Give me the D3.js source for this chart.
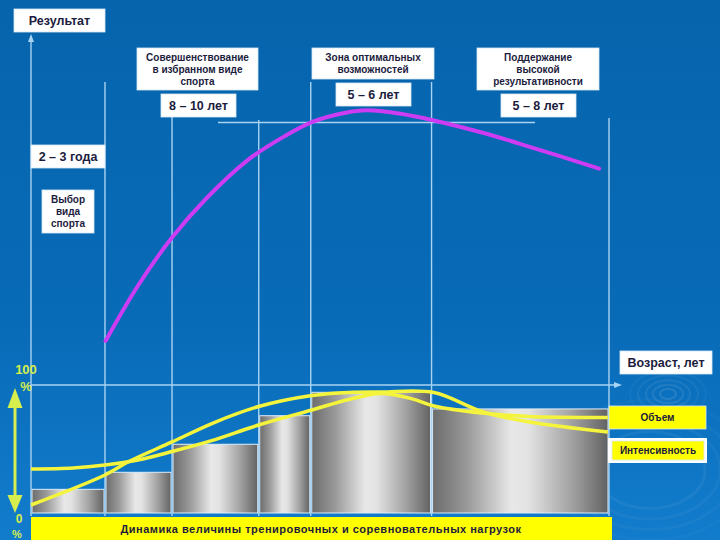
<!DOCTYPE html>
<html><head><meta charset="utf-8">
<script src="https://cdn.jsdelivr.net/npm/d3@7"></script>
<style>html,body{margin:0;padding:0;background:#0a68b0;}svg{display:block;}</style>
</head><body>
<script>
// ---------- DATA ----------
const stageBounds = [0, 12.8, 24.4, 39.4, 48.4, 69.3, 100];      // age axis, stage boundaries
const loadBars    = [18.5, 31.8, 53.7, 76, 94.3, 81.3];           // % load per stage
const resultX     = [12.9, 18.5, 24.4, 30.4, 37.5, 43.9, 48.6, 54.2, 58.1, 63.7, 69.7, 78, 86, 98.3];
const resultY     = [16, 36.1, 53.6, 68, 81.8, 90.5, 95.6, 98.9, 99.9, 98.7, 96.2, 91.8, 86.8, 78.7];
const volumeX     = [0, 7.3, 12.8, 18.5, 24.4, 31.1, 39.4, 48.6, 55, 60.6, 66.1, 69.7, 78, 86, 99.8];
const volumeY     = [34.4, 35.2, 37.5, 41.4, 48, 56.3, 68.75, 80.5, 88.7, 93.4, 89, 83.6, 78.1, 75.4, 74.6];
const intensX     = [0, 12.8, 17.1, 24.4, 31.5, 39.4, 48.6, 55, 60.6, 69.7, 78, 86, 99.8];
const intensY     = [6.25, 29.7, 40.6, 55.5, 70.3, 83.2, 91.8, 94.2, 94.5, 94.1, 79.3, 71.3, 63.3];
const stageTitles = [["Совершенствование","в избранном виде","спорта"],["Зона оптимальных","возможностей"],["Поддержание","высокой","результативности"]];
const stageYears  = ["8 – 10 лет","5 – 6 лет","5 – 8 лет"];
const firstStage  = ["2 – 3 года", ["Выбор","вида","спорта"]];
const legendNames = ["Объем","Интенсивность"];
const axisTitles  = ["Результат","Возраст, лет","Динамика величины тренировочных и соревновательных нагрузок"];
const pctLabels   = [["100","%"],["0","%"]];

// ---------- SETUP ----------
const W = 720, H = 540;
const svg = d3.select("body").append("svg").attr("width", W).attr("height", H);
const defs = svg.append("defs");
const FONT = "'Liberation Sans', Arial, sans-serif";
const TXT = "#1c1c3e";

const bg = defs.append("linearGradient").attr("id","bg").attr("x1",0).attr("y1",0).attr("x2",0).attr("y2",1);
bg.append("stop").attr("offset","0").attr("stop-color","#0664ac");
bg.append("stop").attr("offset","0.6").attr("stop-color","#086bb8");
bg.append("stop").attr("offset","1").attr("stop-color","#127ccc");
svg.append("rect").attr("width",W).attr("height",H).attr("fill","url(#bg)");

const barG = defs.append("linearGradient").attr("id","barG").attr("x1",0).attr("y1",0).attr("x2",1).attr("y2",0);
[["0","#6c6c6c"],["0.2","#9a9a9a"],["0.45","#e8e8e8"],["0.55","#e2e2e2"],["0.8","#a0a0a0"],["1","#626262"]]
  .forEach(s=>barG.append("stop").attr("offset",s[0]).attr("stop-color",s[1]));

// ripples decoration
const rip = svg.append("g").attr("fill","none").attr("stroke","#ffffff");
[8,15,22,30,38].forEach((r,i)=>rip.append("ellipse").attr("cx",668).attr("cy",394).attr("rx",r).attr("ry",r*0.62).attr("stroke-opacity",0.11-i*0.018).attr("stroke-width",2));
[55,70,85,100].forEach((r,i)=>rip.append("ellipse").attr("cx",650).attr("cy",470).attr("rx",r).attr("ry",r*0.7).attr("stroke-opacity",0.055-i*0.01).attr("stroke-width",3));

// ---------- SCALES ----------
const x = d3.scaleLinear().domain([0,100]).range([31,609]);
const yRes = d3.scaleLinear().domain([0,100]).range([385,110]);
const yLoad = d3.scaleLinear().domain([0,100]).range([513,385]);

// ---------- BARS ----------
svg.append("g").selectAll("rect").data(loadBars).join("rect")
  .attr("x",(d,i)=>x(stageBounds[i])+1)
  .attr("width",(d,i)=>x(stageBounds[i+1])-x(stageBounds[i])-2)
  .attr("y",d=>yLoad(d))
  .attr("height",d=>yLoad(0)-yLoad(d))
  .attr("fill","url(#barG)")
  .attr("stroke","#dfeefa").attr("stroke-width",1);

// ---------- GRID / AXES ----------
const LINE = "#a9d3f2";
const gl = svg.append("g").attr("stroke",LINE).attr("stroke-width",1.4);
const lineTops = [36, 82, 115, 120, 82, 82, 118];
stageBounds.forEach((b,i)=>gl.append("line").attr("x1",x(b)).attr("x2",x(b)).attr("y1",lineTops[i]).attr("y2",516));
gl.append("line").attr("x1",x(0)).attr("x2",616).attr("y1",yRes(0)).attr("y2",yRes(0));
gl.append("line").attr("x1",218).attr("x2",535).attr("y1",122.5).attr("y2",122.5);
svg.append("path").attr("d",`M${x(0)-3},42 L${x(0)},34 L${x(0)+3},42 Z`).attr("fill",LINE);
svg.append("path").attr("d",`M614,${yRes(0)-3} L622,${yRes(0)} L614,${yRes(0)+3} Z`).attr("fill",LINE);

// ---------- CURVES ----------
const lineGen = d3.line().curve(d3.curveCatmullRom.alpha(0.5));
svg.append("path").attr("d",lineGen(resultX.map((v,i)=>[x(v),yRes(resultY[i])])))
  .attr("fill","none").attr("stroke","#cc3cf2").attr("stroke-width",4).attr("stroke-linecap","round");
svg.append("path").attr("d",lineGen(volumeX.map((v,i)=>[x(v),yLoad(volumeY[i])])))
  .attr("fill","none").attr("stroke","#f4f43c").attr("stroke-width",3.5);
svg.append("path").attr("d",lineGen(intensX.map((v,i)=>[x(v),yLoad(intensY[i])])))
  .attr("fill","none").attr("stroke","#f4f43c").attr("stroke-width",3.5);

// ---------- LABEL BOXES ----------
function box(x0,y0,w,h,lines,size,cy,lh,fill){
  svg.append("rect").attr("x",x0).attr("y",y0).attr("width",w).attr("height",h)
    .attr("fill",fill||"#ffffff").attr("stroke","#d8e8f4").attr("stroke-width",0.8);
  const n = lines.length;
  lines.forEach((t,i)=>svg.append("text").attr("x",x0+w/2).attr("y",cy+(i-(n-1)/2)*lh)
    .attr("text-anchor","middle").attr("dominant-baseline","central")
    .attr("font-family",FONT).attr("font-weight","bold").attr("font-size",size).attr("fill",TXT).text(t));
}
box(14,9,91,23,[axisTitles[0]],12.5,20.5,0);
box(137,48,121,42,stageTitles[0],10,69,12);
box(312,48,122,31,stageTitles[1],10,63.5,12);
box(477,48,122,42,stageTitles[2],10,69,12);
box(161,94,75,23,[stageYears[0]],12.5,105.5,0);
box(336,83,75,23,[stageYears[1]],12.5,94.5,0);
box(501,94,75,23,[stageYears[2]],12.5,105.5,0);
box(31,145,74,23,[firstStage[0]],12.5,156.5,0);
box(42,190,52,43,firstStage[1],10,211.5,11.7);
box(620,351,92,23,[axisTitles[1]],12.5,362.5,0);

// legend
box(609,406,97,23,[legendNames[0]],10,417,0,"#ffff00");
svg.append("rect").attr("x",608).attr("y",438).attr("width",99).attr("height",25).attr("fill","#ffffff");
box(612,441,92,19,[legendNames[1]],10,450.5,0,"#ffff00");

// bottom band
svg.append("rect").attr("x",31).attr("y",517).attr("width",581).attr("height",23).attr("fill","#ffff00");
svg.append("text").attr("x",321).attr("y",528.5).attr("text-anchor","middle").attr("dominant-baseline","central")
  .attr("font-family",FONT).attr("font-weight","bold").attr("font-size",11).attr("letter-spacing",0.5)
  .attr("fill",TXT).text(axisTitles[2]);

// percent labels + double arrow
const YG = "#d6ee4e";
const pl = svg.append("g").attr("font-family",FONT).attr("font-weight","bold").attr("font-size",13).attr("fill",YG).attr("text-anchor","middle").attr("dominant-baseline","central");
pl.append("text").attr("x",26).attr("y",369).text(pctLabels[0][0]);
pl.append("text").attr("x",26).attr("y",386).text(pctLabels[0][1]);
pl.append("text").attr("x",19).attr("y",519).attr("font-size",12).text(pctLabels[1][0]);
pl.append("text").attr("x",17).attr("y",533.5).attr("font-size",11).text(pctLabels[1][1]);
svg.append("line").attr("x1",15).attr("x2",15).attr("y1",405).attr("y2",498).attr("stroke",YG).attr("stroke-width",3);
svg.append("path").attr("d","M15,388 L22.5,408 L7.5,408 Z").attr("fill",YG);
svg.append("path").attr("d","M15,513 L22.5,495 L7.5,495 Z").attr("fill",YG);
</script>
</body></html>
